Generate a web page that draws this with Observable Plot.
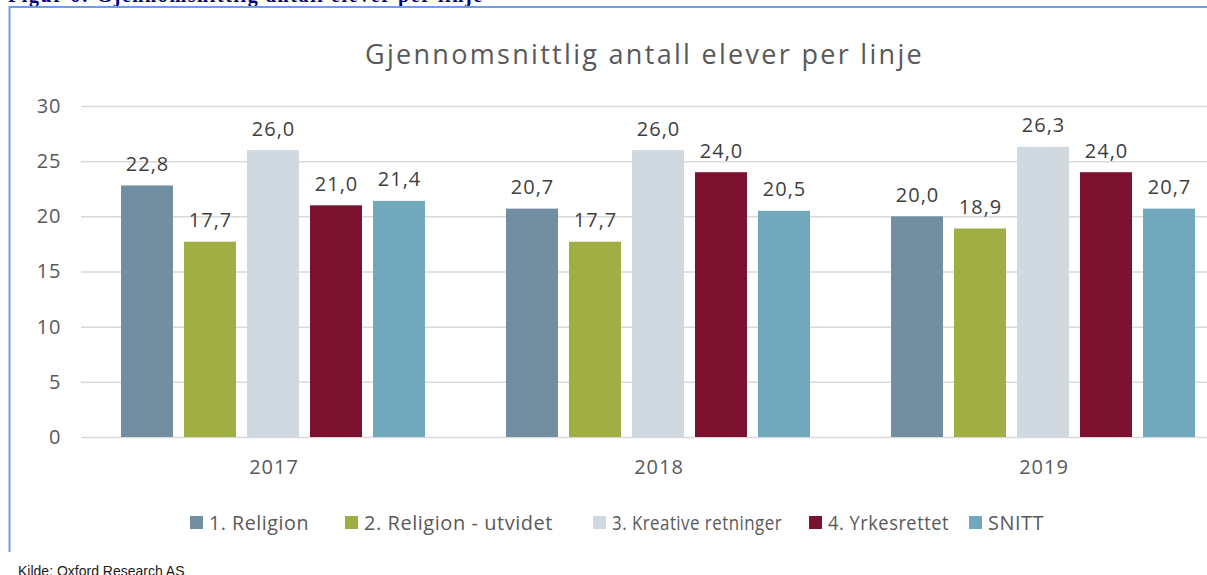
<!DOCTYPE html>
<html>
<head>
<meta charset="utf-8">
<script src="https://cdn.jsdelivr.net/npm/d3@7"></script>
<script src="https://cdn.jsdelivr.net/npm/@observablehq/plot@0.6"></script>
<style>
  html, body { margin: 0; padding: 0; background: #fff; }
  body { width: 1207px; height: 575px; overflow: hidden; position: relative; }
  #overlay { position: absolute; left: 0; top: 0; }
  #chart { position: absolute; left: 0; top: 90px; width: 1236px; }
  #chart svg { max-width: none !important; }
  #chart svg text { letter-spacing: 1px; }
  #legend { position: absolute; left: 0; top: 509px; width: 1207px; height: 26px;
            font-family: "Open Sans", sans-serif; font-size: 20px; color: #595959; letter-spacing: 0.55px; white-space: nowrap; }
  #legend .item { position: absolute; top: 0; height: 26px; display: flex; align-items: center; gap: 6px; }
  #legend .sw { width: 13px; height: 13px; display: inline-block; flex: none; }
  #legend .lbl { display: inline-block; transform-origin: 0 50%; }
</style>
</head>
<body>
<svg id="overlay" width="1207" height="575">
  <text x="8" y="1.5" font-family="Liberation Serif, serif" font-weight="bold" font-size="20" letter-spacing="1.6" fill="#000080">Figur 6: Gjennomsnittlig antall elever per linje</text>
  <line x1="9" y1="7" x2="1207" y2="7" stroke="#6d9eeb" stroke-width="2"/>
  <line x1="9.5" y1="6" x2="9.5" y2="552" stroke="#6d9eeb" stroke-width="2"/>
  <text x="644.5" y="64" text-anchor="middle" font-family="Open Sans, sans-serif" font-size="27" letter-spacing="2.3" fill="#595959">Gjennomsnittlig antall elever per linje</text>
  <text x="18" y="576" font-family="Liberation Sans, Arial, sans-serif" font-size="14" fill="#1a1a1a">Kilde: Oxford Research AS</text>
</svg>
<div id="chart"></div>
<div id="legend"></div>
<script>
const years = ["2017", "2018", "2019"];
const series = ["1. Religion", "2. Religion - utvidet", "3. Kreative retninger", "4. Yrkesrettet", "SNITT"];
const colors = ["#728fa2", "#a0ae43", "#d0d8e0", "#7a1230", "#71a8bb"];
const religion = [22.8, 20.7, 20.0];
const religionUtvidet = [17.7, 17.7, 18.9];
const kreative = [26.0, 26.0, 26.3];
const yrkesrettet = [21.0, 24.0, 24.0];
const snitt = [21.4, 20.5, 20.7];
const yTicks = [0, 5, 10, 15, 20, 25, 30];

// legend layout (swatch left edge, label width in px)
const legendLeft = [190, 345, 593, 809, 969];
const legendLabelWidth = [100, 189, 170, 121, 56];

const seriesValues = [religion, religionUtvidet, kreative, yrkesrettet, snitt];
const data = years.flatMap((yr, i) => series.map((s, j) => ({year: yr, series: s, value: seriesValues[j][i]})));
const fmt = v => d3.format(".1f")(v).replace(".", ",");

const chart = Plot.plot({
  width: 1236,
  height: 410,
  marginLeft: 81,
  marginRight: 0,
  marginTop: 16,
  marginBottom: 63,
  style: {fontFamily: "Open Sans, sans-serif", fontSize: "20px", color: "#595959", background: "transparent", overflow: "visible", maxWidth: "none"},
  fx: {domain: years, padding: 0, label: null, tickSize: 0, tickPadding: 22, axis: "bottom"},
  x: {domain: series, paddingInner: 0.173, paddingOuter: 0.618, axis: null},
  y: {domain: [0, 30], ticks: yTicks, tickSize: 0, tickPadding: 20, label: null, tickFormat: d => String(d)},
  color: {domain: series, range: colors},
  marks: [
    Plot.gridY(yTicks, {stroke: "#d9d9d9", strokeOpacity: 1, strokeWidth: 1.5}),
    Plot.barY(data, {fx: "year", x: "series", y: "value", fill: "series"}),
    Plot.text(data, {fx: "year", x: "series", y: "value", text: d => fmt(d.value), lineAnchor: "bottom", dy: -15, fill: "#404040", fontSize: 20})
  ]
});
document.getElementById("chart").appendChild(chart);

const legend = document.getElementById("legend");
series.forEach((s, i) => {
  const item = document.createElement("div");
  item.className = "item";
  item.style.left = legendLeft[i] + "px";
  const sw = document.createElement("span");
  sw.className = "sw";
  sw.style.background = colors[i];
  const label = document.createElement("span");
  label.className = "lbl";
  label.textContent = s;
  item.appendChild(sw);
  item.appendChild(label);
  legend.appendChild(item);
  const w = label.getBoundingClientRect().width;
  if (w > 0) label.style.transform = `scaleX(${legendLabelWidth[i] / w})`;
});
</script>
</body>
</html>
